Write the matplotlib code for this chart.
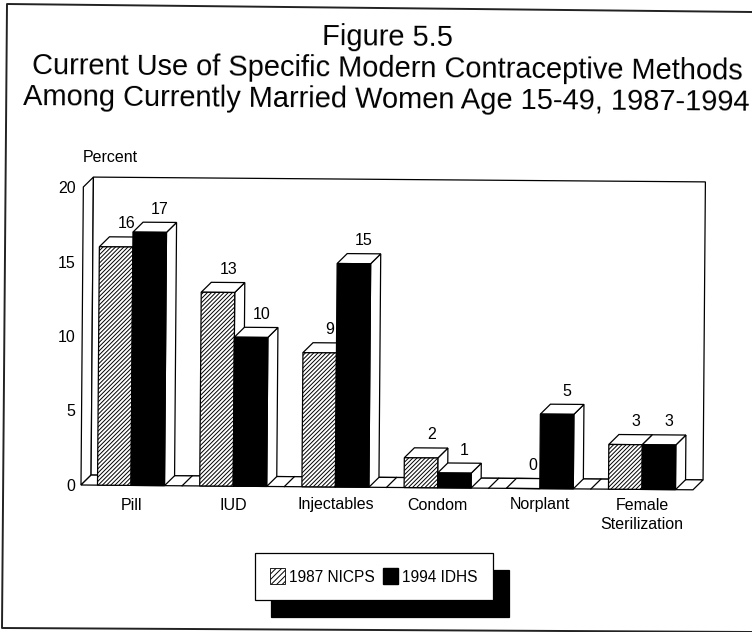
import matplotlib
matplotlib.use("Agg")
import matplotlib.pyplot as plt
from matplotlib.lines import Line2D
from matplotlib.patches import Polygon, Patch
from matplotlib.transforms import Affine2D

plt.rcParams['font.family'] = ['Liberation Sans', 'DejaVu Sans']
plt.rcParams['hatch.linewidth'] = 0.7

categories = ['Pill', 'IUD', 'Injectables', 'Condom', 'Norplant', 'Female\nSterilization']
values_1987 = [16, 13, 9, 2, 0, 3]
values_1994 = [17, 10, 15, 1, 5, 3]
series_names = ['1987 NICPS', '1994 IDHS']
y_ticks = [0, 5, 10, 15, 20]
title_lines = ['Figure 5.5',
               'Current Use of Specific Modern Contraceptive Methods',
               'Among Currently Married Women Age 15-49, 1987-1994']

W, H = 752, 632
fig = plt.figure(figsize=(W / 100, H / 100), dpi=100, facecolor='white')

# axes placed so the front plane of the 3-D box fits the reference
L, R, T, B = 81, 693, 187, 485
ax = fig.add_axes([L / W, 1 - B / H, (R - L) / W, (B - T) / H])
STEP = 102.2            # px per category
CX0 = 131.0             # px of the first category centre
UNIT = (B - T) / 20     # px per percent
ax.set_xlim((L - CX0) / STEP, (R - CX0) / STEP)
ax.set_ylim(0, 20)
ax.patch.set_visible(False)
for s in ax.spines.values():
    s.set_visible(False)

DX = 10 / STEP          # oblique depth, in data units
DY = 10 / UNIT
BW = 33.5 / STEP
LW = 0.9

# slight clockwise tilt of the scanned page
tilt = Affine2D().rotate_deg_around(L, H - B, -0.45)
tr = ax.transData + tilt


def poly(pts, fc='white', z=1):
    ax.add_patch(Polygon(pts, closed=True, facecolor=fc, edgecolor='black',
                         linewidth=LW, transform=tr, clip_on=False, zorder=z))


x0, x1 = ax.get_xlim()
# back walls and floor
poly([(x0, 0), (x0 + DX, DY), (x0 + DX, 20 + DY), (x0, 20)])
poly([(x0 + DX, DY), (x1 + DX, DY), (x1 + DX, 20 + DY), (x0 + DX, 20 + DY)])
poly([(x0, 0), (x1, 0), (x1 + DX, DY), (x0 + DX, DY)])
for i in range(len(categories) - 1):
    ax.plot([i + 0.5, i + 0.5 + DX], [0, DY], color='black', lw=LW,
            transform=tr, clip_on=False, zorder=1)


def bar3d(xc, v, fc, hatch, z):
    left, right = xc - BW / 2, xc + BW / 2
    poly([(right, 0), (right + DX, DY), (right + DX, v + DY), (right, v)], z=z)
    poly([(left, v), (right, v), (right + DX, v + DY), (left + DX, v + DY)], z=z)
    ax.bar(xc, v, BW, facecolor=fc, edgecolor='black', linewidth=LW, hatch=hatch,
           transform=tr, clip_on=False, zorder=z + 0.1)
    ax.text(xc + DX, v + DY + 13 / UNIT, str(v), ha='center', va='center',
            fontsize=11.5, transform=tr, zorder=10)


for i in range(len(categories)):
    bar3d(i - BW / 2, values_1987[i], 'white', '////////', 2 + 2 * i)
    bar3d(i + BW / 2, values_1994[i], 'black', None, 3 + 2 * i)

ax.set_yticks(y_ticks)
ax.set_xticks(range(len(categories)))
ax.set_xticklabels(categories, linespacing=1.35)
ax.tick_params(axis='both', length=0, labelsize=11.5)
ax.tick_params(axis='x', pad=9)
ax.tick_params(axis='y', pad=4)
ax.set_ylabel('Percent', rotation=0, fontsize=11.5, ha='left', va='center')
ax.yaxis.set_label_coords((83 - L) / (R - L), (B - 157) / (B - T))

fig.suptitle('\n'.join(title_lines), x=387 / W, y=1 - 68.5 / H, ha='center', va='center',
             fontsize=20.9, linespacing=1.15, rotation=-0.45, rotation_mode='anchor')

handles = [Patch(facecolor='white', edgecolor='black', hatch='//////', linewidth=0.6),
           Patch(facecolor='black', edgecolor='black')]
leg = fig.legend(handles, series_names, ncol=2, loc='center',
                 bbox_to_anchor=(374 / W, 1 - 576.5 / H), fontsize=11.2,
                 fancybox=False, edgecolor='black', framealpha=1,
                 handlelength=0.95, handleheight=1.2, handletextpad=0.3,
                 columnspacing=0.5, borderpad=0.98, borderaxespad=0,
                 shadow=dict(ox=11.5, oy=-12, fc='black', alpha=1, ec='black'))
leg.get_frame().set_linewidth(0.9)

# scanned page border: top, left and bottom only
border_x = [752, 7, 2, 752]
border_y = [12, 4, 628, 632]
fig.add_artist(Line2D([x / W for x in border_x], [1 - y / H for y in border_y],
                      transform=fig.transFigure, color='#222222', linewidth=1.4))

fig.savefig('out.png', dpi=100)
